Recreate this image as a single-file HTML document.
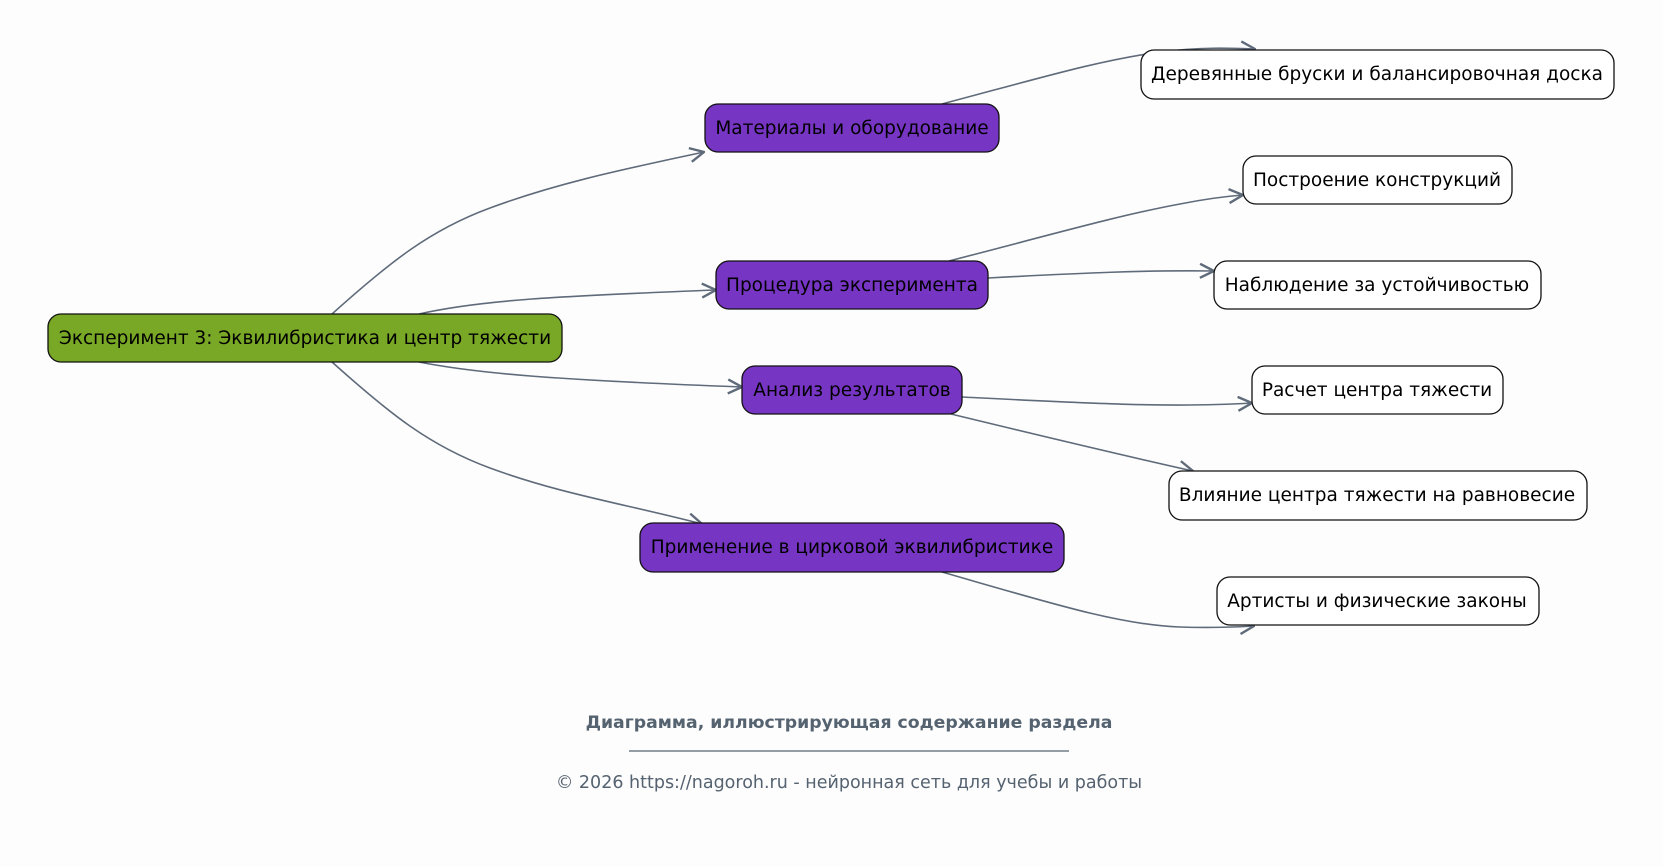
<!DOCTYPE html>
<html><head><meta charset="utf-8"><style>
html,body{margin:0;padding:0;background:#fdfdfd;}
svg{display:block}
text{font-family:"DejaVu Sans","Liberation Sans",sans-serif;}
</style></head><body>
<svg width="1663" height="867" viewBox="0 0 1663 867" xmlns="http://www.w3.org/2000/svg">
<rect width="1663" height="867" fill="#fdfdfd"/>
<defs>
<marker id="a" viewBox="0 0 16 16" refX="15" refY="8" markerWidth="16" markerHeight="16" markerUnits="userSpaceOnUse" orient="auto">
<path d="M1,1 L15,8 L1,15" fill="none" stroke="#5f6b7a" stroke-width="2.4"/>
</marker>
</defs>
<g fill="none" stroke="#5f6b7a" stroke-width="1.6" marker-end="url(#a)">
<path d="M332,314 C390,262 430,230 490,208 C560,182 630,168 704,152"/>
<path d="M419,314 C480,300 560,296 716,290"/>
<path d="M419,362 C480,374 560,380 742,387"/>
<path d="M332,362 C390,414 430,446 490,468 C560,494 630,505 702,524"/>
<path d="M942,104 C1040,78 1100,60 1160,52 C1200,47 1230,48 1255,49"/>
<path d="M949,261 C1050,235 1120,215 1180,204 C1210,198 1230,196 1243,195"/>
<path d="M988,278 C1080,273 1150,270 1214,271"/>
<path d="M962,397 C1080,403 1170,408 1252,403"/>
<path d="M951,414 C1050,438 1130,457 1193,471"/>
<path d="M942,572 C1050,603 1120,625 1180,627 C1210,628 1240,627 1254,626"/>
</g>
<g stroke="#111" stroke-width="1.3">
<rect x="48" y="314" width="514" height="48" rx="13" fill="#79a726"/>
<rect x="705" y="104" width="294" height="48" rx="13" fill="#7735c4"/>
<rect x="716" y="261" width="272" height="48" rx="13" fill="#7735c4"/>
<rect x="742" y="366" width="220" height="48" rx="13" fill="#7735c4"/>
<rect x="640" y="523" width="424" height="49" rx="13" fill="#7735c4"/>
<g fill="#fff">
<rect x="1141" y="50" width="473" height="49" rx="13"/>
<rect x="1243" y="156" width="269" height="48" rx="13"/>
<rect x="1214" y="261" width="327" height="48" rx="13"/>
<rect x="1252" y="366" width="251" height="48" rx="13"/>
<rect x="1169" y="471" width="418" height="49" rx="13"/>
<rect x="1217" y="577" width="322" height="48" rx="13"/>
</g>
</g>
<g font-size="18.5" fill="#000" text-anchor="middle">
<text x="305" y="344">Эксперимент 3: Эквилибристика и центр тяжести</text>
<text x="852" y="134">Материалы и оборудование</text>
<text x="852" y="291">Процедура эксперимента</text>
<text x="852" y="396">Анализ результатов</text>
<text x="852" y="553">Применение в цирковой эквилибристике</text>
<text x="1377" y="80">Деревянные бруски и балансировочная доска</text>
<text x="1377" y="186">Построение конструкций</text>
<text x="1377" y="291">Наблюдение за устойчивостью</text>
<text x="1377" y="396">Расчет центра тяжести</text>
<text x="1377" y="501">Влияние центра тяжести на равновесие</text>
<text x="1377" y="607">Артисты и физические законы</text>
</g>
<text x="849" y="728" font-size="17.3" font-weight="bold" fill="#556270" text-anchor="middle">Диаграмма, иллюстрирующая содержание раздела</text>
<line x1="629" y1="751" x2="1069" y2="751" stroke="#556270" stroke-width="1.2"/>
<text x="849" y="788" font-size="17.5" fill="#556270" text-anchor="middle">© 2026 https://nagoroh.ru - нейронная сеть для учебы и работы</text>
</svg>
</body></html>
